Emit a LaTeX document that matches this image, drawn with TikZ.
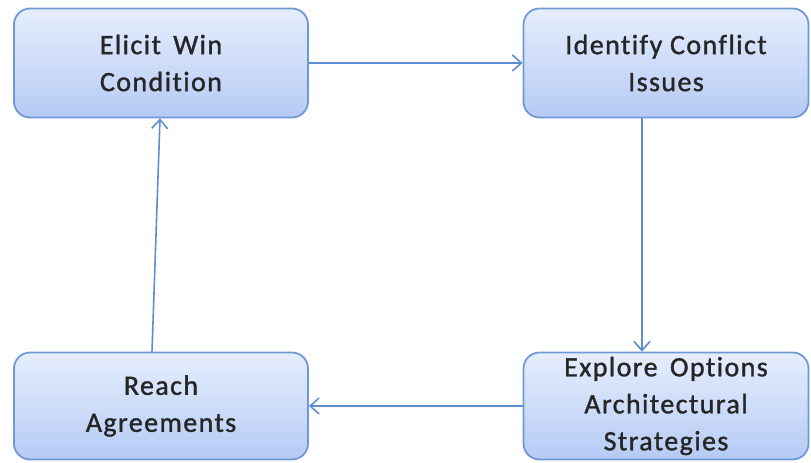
\documentclass[tikz,border=0pt]{standalone}
\usepackage{fontspec}
\setmainfont{Carlito}[Ligatures=NoCommon]
\usetikzlibrary{arrows.meta,calc}
\definecolor{boxtop}{HTML}{E6EEFD}
\definecolor{boxbot}{HTML}{B5CAF4}
\definecolor{boxline}{HTML}{6F98D6}
\definecolor{arrline}{HTML}{5E8DD0}
\definecolor{txt}{HTML}{262626}
\tikzset{
  procbox/.style={draw=boxline, line width=1.8pt, rounded corners=16pt,
    top color=boxtop, bottom color=boxbot, inner sep=0pt,
    align=center, text=txt,
    font=\fontsize{28}{37}\selectfont\addfontfeatures{LetterSpace=5,FakeBold=1.2}},
  flow/.style={draw=arrline, line width=1.6pt,
    -{Straight Barb[length=9pt,width=16pt,line width=1.6pt]}}
}
\begin{document}
\begin{tikzpicture}[x=1pt,y=-1pt]
\useasboundingbox (0,0) rectangle (811,463);
\node[procbox, minimum width=294pt, minimum height=109pt] (A) at (161,63) {Elicit\, Win\\Condition};
\node[procbox, minimum width=285pt, minimum height=109pt] (B) at (666,63) {Identify Conflict\\Issues};
\node[procbox, minimum width=294pt, minimum height=107pt] (C) at (161,406) {Reach\\Agreements};
\node[procbox, minimum width=285pt, minimum height=107pt] (D) at (666,406) {Explore\, Options\\Architectural\\Strategies};
\draw[flow] (A.east) -- (B.west);
\draw[flow] ($(B.south)+(-24,0)$) -- ($(D.north)+(-24,0)$);
\draw[flow] (D.west) -- (C.east);
\draw[flow] ($(C.north)+(-9,0)$) -- ($(A.south)+(-1,0)$);
\end{tikzpicture}
\end{document}
